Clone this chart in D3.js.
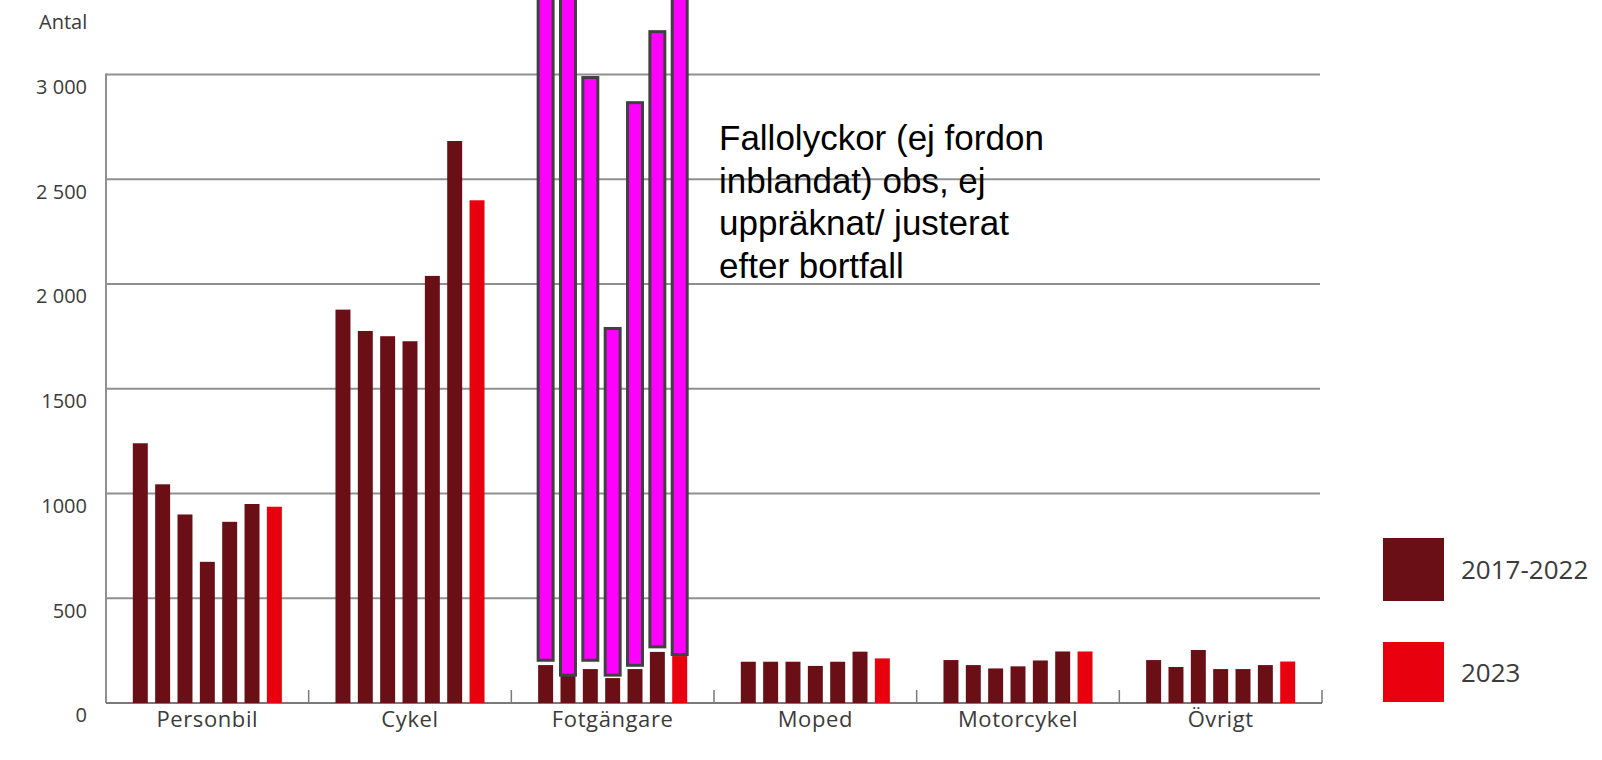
<!DOCTYPE html>
<html>
<head>
<meta charset="utf-8">
<script src="https://cdn.jsdelivr.net/npm/d3@7"></script>
<style>
html,body{margin:0;padding:0;background:#fff;}
svg{display:block;}
</style>
</head>
<body>
<script>
// ---- data ----
const categories = ["Personbil", "Cykel", "Fotgängare", "Moped", "Motorcykel", "Övrigt"];
const years = ["2017", "2018", "2019", "2020", "2021", "2022", "2023"];
const personbil  = [1240, 1044, 900, 674, 865, 950, 937];
const cykel      = [1878, 1776, 1751, 1727, 2039, 2683, 2400];
const fotgangare = [181, 129, 162, 119, 162, 244, 224];
const moped      = [197, 197, 197, 177, 197, 245, 213];
const motorcykel = [205, 181, 165, 175, 203, 246, 246];
const ovrigt     = [205, 172, 253, 162, 162, 181, 198];
// Fallolyckor overlay (Fotgängare), bottom and top of each magenta bar
const fallLow  = [204, 133, 204, 133, 180, 268, 231];
const fallHigh = [3700, 3700, 2986, 1788, 2866, 3205, 3700];
const yTicks = [0, 500, 1000, 1500, 2000, 2500, 3000];
const yTickLabels = ["0", "500", "1000", "1500", "2 000", "2 500", "3 000"];
const legendLabels = ["2017-2022", "2023"];
const annotationLines = ["Fallolyckor (ej fordon", "inblandat) obs, ej", "uppräknat/ justerat", "efter bortfall"];

const seriesByCat = [personbil, cykel, fotgangare, moped, motorcykel, ovrigt];

// ---- layout ----
const W = 1602, H = 760;
const colDark = "#6b0f17", colRed = "#e8000e", colMag = "#ff00ff";
const svg = d3.select("body").append("svg").attr("width", W).attr("height", H);

const y = d3.scaleLinear().domain([0, 3000]).range([703, 74.6]);
const x0 = d3.scaleBand().domain(categories).range([106, 1322]);
const x1 = d3.scaleBand().domain(d3.range(years.length)).range([0, x0.bandwidth()])
  .paddingInner(0.33).paddingOuter(1.2);

const font = "'Open Sans', 'DejaVu Sans', sans-serif";

// gridlines
svg.append("g").selectAll("line").data(yTicks.filter(d => d > 0)).join("line")
  .attr("x1", 106).attr("x2", 1320)
  .attr("y1", d => y(d)).attr("y2", d => y(d))
  .attr("stroke", "#909090").attr("stroke-width", 2);

// left axis line
svg.append("line").attr("x1", 106).attr("x2", 106).attr("y1", y(3000) - 1).attr("y2", y(0))
  .attr("stroke", "#909090").attr("stroke-width", 2);

// baseline + group separators
svg.append("line").attr("x1", 106).attr("x2", 1322).attr("y1", y(0)).attr("y2", y(0))
  .attr("stroke", "#7a7a7a").attr("stroke-width", 2);
const sepX = categories.slice(1).map(c => x0(c)).concat([x0.range()[1]]);
svg.append("g").selectAll("line").data(sepX).join("line")
  .attr("x1", d => d).attr("x2", d => d).attr("y1", y(0)).attr("y2", y(0) - 13)
  .attr("stroke", "#7a7a7a").attr("stroke-width", 1.5);

// y tick labels
svg.append("g").selectAll("text").data(yTicks).join("text")
  .attr("x", 87).attr("y", d => y(d) + 14)
  .attr("text-anchor", "end").attr("dominant-baseline", "middle")
  .attr("font-family", font).attr("font-size", 20).attr("fill", "#3b3b3b")
  .text((d, i) => yTickLabels[i]);

svg.append("text").attr("x", 39).attr("y", 24).attr("dominant-baseline", "middle")
  .attr("font-family", font).attr("font-size", 20).attr("fill", "#3b3b3b").text("Antal");

// bars
const gBars = svg.append("g");
categories.forEach((c, ci) => {
  gBars.append("g").selectAll("rect").data(seriesByCat[ci]).join("rect")
    .attr("x", (d, i) => x0(c) + x1(i))
    .attr("width", x1.bandwidth())
    .attr("y", d => y(d))
    .attr("height", d => y(0) - y(d))
    .attr("fill", (d, i) => i === years.length - 1 ? colRed : colDark);
});

// magenta overlay bars for Fotgängare
svg.append("g").selectAll("rect").data(fallHigh).join("rect")
  .attr("x", (d, i) => x0("Fotgängare") + x1(i))
  .attr("width", x1.bandwidth())
  .attr("y", d => y(d))
  .attr("height", (d, i) => y(fallLow[i]) - y(d))
  .attr("fill", colMag).attr("stroke", "#404040").attr("stroke-width", 3);

// category labels
svg.append("g").selectAll("text").data(categories).join("text")
  .attr("x", d => x0(d) + x0.bandwidth() / 2).attr("y", 721)
  .attr("text-anchor", "middle").attr("dominant-baseline", "middle")
  .attr("font-family", font).attr("font-size", 22).attr("letter-spacing", 0.6)
  .attr("fill", "#3b3b3b")
  .text(d => d);

// annotation
svg.append("g").selectAll("text").data(annotationLines).join("text")
  .attr("x", 719).attr("y", (d, i) => 150 + i * 42.5)
  .attr("font-family", "'Liberation Sans', Arial, sans-serif").attr("font-size", 35)
  .attr("fill", "#000").text(d => d);

// legend
const legColors = [colDark, colRed];
const legY = [538, 642];
const legH = [63, 60];
const legend = svg.append("g");
legend.selectAll("rect").data(legendLabels).join("rect")
  .attr("x", 1383).attr("y", (d, i) => legY[i]).attr("width", 61).attr("height", (d, i) => legH[i])
  .attr("fill", (d, i) => legColors[i]);
legend.selectAll("text").data(legendLabels).join("text")
  .attr("x", 1461).attr("y", (d, i) => legY[i] + legH[i] / 2 + 3)
  .attr("dominant-baseline", "middle")
  .attr("font-family", font).attr("font-size", 26).attr("fill", "#3b3b3b")
  .text(d => d);
</script>
</body>
</html>
